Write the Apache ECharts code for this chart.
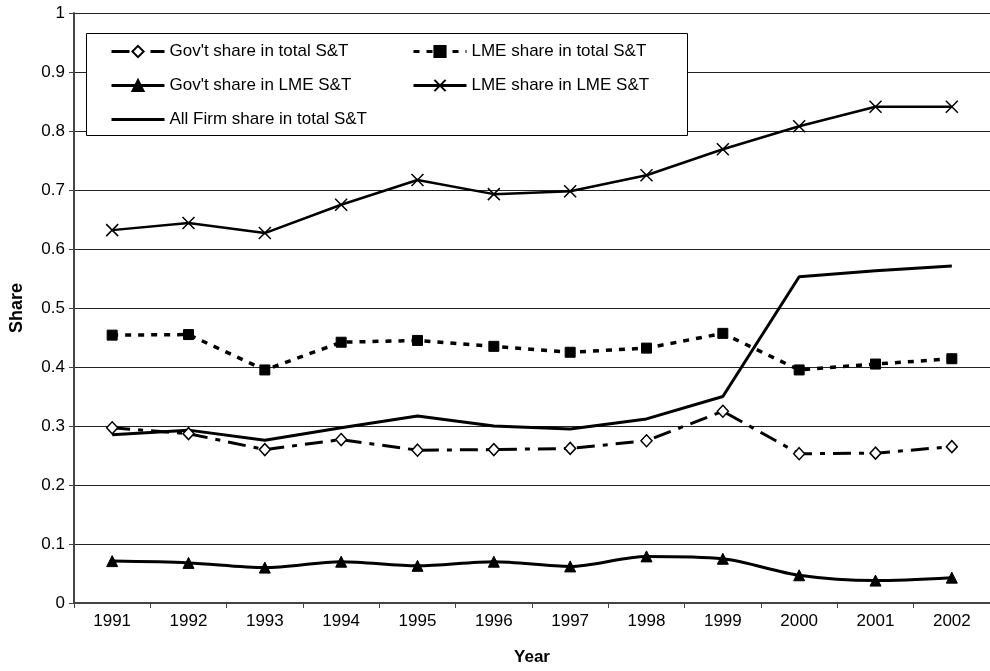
<!DOCTYPE html>
<html>
<head>
<meta charset="utf-8">
<script src="https://cdn.jsdelivr.net/npm/echarts@6/dist/echarts.min.js"></script>
<style>
  html, body { margin: 0; padding: 0; background: #fff; }
  #chart { width: 990px; height: 671px; }
</style>
</head>
<body>
<div id="chart"></div>
<script>
// data
const years = ['1991', '1992', '1993', '1994', '1995', '1996', '1997', '1998', '1999', '2000', '2001', '2002']
const yTicks = ['0', '0.1', '0.2', '0.3', '0.4', '0.5', '0.6', '0.7', '0.8', '0.9', '1']

const govTotal = [0.297, 0.287, 0.260, 0.277, 0.259, 0.260, 0.262, 0.275, 0.325, 0.253, 0.254, 0.265]
const lmeTotal = [0.454, 0.455, 0.395, 0.442, 0.445, 0.435, 0.425, 0.432, 0.457, 0.395, 0.405, 0.414]
const govLme = [0.071, 0.068, 0.060, 0.070, 0.063, 0.070, 0.062, 0.079, 0.075, 0.047, 0.038, 0.043]
const lmeLme = [0.632, 0.644, 0.627, 0.675, 0.717, 0.693, 0.698, 0.725, 0.769, 0.808, 0.841, 0.841]
const firmTotal = [0.285, 0.293, 0.276, 0.297, 0.317, 0.300, 0.295, 0.312, 0.350, 0.553, 0.563, 0.571]

const FONT = '"Liberation Sans", Arial, sans-serif'
const cross = 'path://M0,0L10,10M10,0L0,10'

const chart = echarts.init(document.getElementById('chart'))

const legendBase = {
  orient: 'vertical',
  top: 43,
  padding: 0,
  itemWidth: 53,
  itemHeight: 14,
  itemGap: 17,
  z: 5,
  lineStyle: { width: 3 },
  textStyle: { fontFamily: FONT, fontSize: 17, color: '#000' }
}

const option = {
  animation: false,
  textStyle: { fontFamily: FONT, color: '#000' },
  grid: {
    left: 70,
    top: 13,
    width: 928,
    height: 593,
    containLabel: false
  },
  // legend frame
  graphic: [{
    type: 'rect',
    z: 3,
    shape: { x: 86.5, y: 33.5, width: 601, height: 102 },
    style: { fill: '#fff', stroke: '#000', lineWidth: 1 }
  }],
  legend: [
    Object.assign({}, legendBase, {
      left: 110,
      data: [
        "Gov't share in total S&T",
        "Gov't share in LME S&T",
        { name: 'All Firm share in total S&T', itemStyle: { opacity: 0 } }
      ]
    }),
    Object.assign({}, legendBase, {
      left: 412,
      data: ['LME share in total S&T', 'LME share in LME S&T']
    })
  ],
  xAxis: {
    type: 'category',
    data: years,
    boundaryGap: true,
    name: 'Year',
    nameLocation: 'middle',
    nameGap: 46,
    nameTextStyle: { fontFamily: FONT, fontSize: 17, fontWeight: 'bold', color: '#000' },
    axisLine: { lineStyle: { color: '#444', width: 2 } },
    axisTick: { show: true, interval: 0, length: 5, lineStyle: { color: '#444' } },
    axisLabel: { margin: 10, fontSize: 17, color: '#000', fontFamily: FONT },
    splitLine: { show: false }
  },
  yAxis: {
    type: 'value',
    min: 0,
    max: 1,
    interval: 0.1,
    name: 'Share',
    nameLocation: 'middle',
    nameGap: 48,
    nameRotate: 90,
    nameTextStyle: { fontFamily: FONT, fontSize: 18, fontWeight: 'bold', color: '#000' },
    axisLine: { show: true, lineStyle: { color: '#444', width: 2 } },
    axisTick: { show: true, length: 5, lineStyle: { color: '#444' } },
    axisLabel: {
      margin: 9,
      fontSize: 17,
      color: '#000',
      fontFamily: FONT,
      formatter: v => yTicks[Math.round(v * 10)]
    },
    splitLine: { show: true, lineStyle: { color: '#222', width: 1 } }
  },
  series: [
    {
      name: "Gov't share in total S&T",
      type: 'line',
      data: govTotal,
      symbol: 'diamond',
      symbolSize: [11, 12],
      lineStyle: { color: '#000', width: 3, type: [18, 8, 5, 8] },
      itemStyle: { color: '#fff', borderColor: '#000', borderWidth: 1.5 }
    },
    {
      name: 'LME share in total S&T',
      type: 'line',
      data: lmeTotal,
      symbol: 'rect',
      symbolSize: 10,
      lineStyle: { color: '#000', width: 3.5, type: [6, 7] },
      itemStyle: { color: '#000', borderColor: '#000', borderWidth: 1 }
    },
    {
      name: "Gov't share in LME S&T",
      type: 'line',
      data: govLme,
      smooth: 0.3,
      symbol: 'triangle',
      symbolSize: 11,
      lineStyle: { color: '#000', width: 3 },
      itemStyle: { color: '#000', borderColor: '#000', borderWidth: 1 }
    },
    {
      name: 'LME share in LME S&T',
      type: 'line',
      data: lmeLme,
      symbol: cross,
      symbolSize: 12,
      lineStyle: { color: '#000', width: 2.5 },
      itemStyle: { color: '#000', borderColor: '#000', borderWidth: 1.5 }
    },
    {
      name: 'All Firm share in total S&T',
      type: 'line',
      data: firmTotal,
      symbol: 'none',
      lineStyle: { color: '#000', width: 3 },
      itemStyle: { color: '#000' }
    }
  ]
}

chart.setOption(option)
</script>
</body>
</html>
